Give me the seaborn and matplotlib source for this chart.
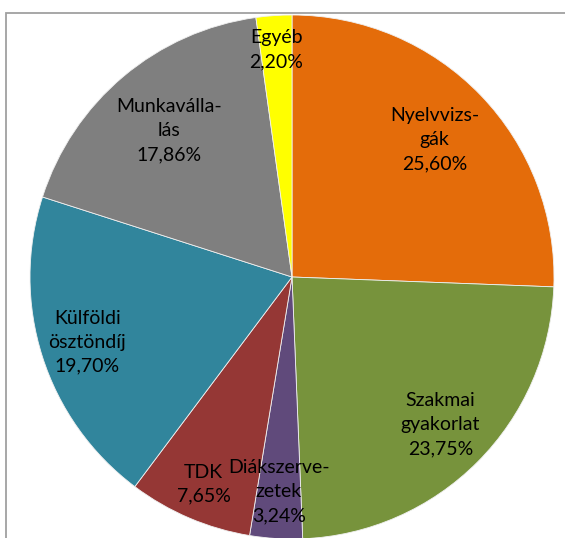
import matplotlib
matplotlib.use("Agg")
import matplotlib.pyplot as plt
import seaborn as sns
import numpy as np
from matplotlib.patches import Rectangle

# ---- data ----
categories = ["Nyelvvizs-\ngák", "Szakmai\ngyakorlat", "Diákszerve-\nzetek", "TDK",
              "Külföldi\nösztöndíj", "Munkaválla-\nlás", "Egyéb"]
values = [25.60, 23.75, 3.24, 7.65, 19.70, 17.86, 2.20]
pct_labels = ["25,60%", "23,75%", "3,24%", "7,65%", "19,70%", "17,86%", "2,20%"]

# ---- style ----
colors = ["#E46C0A", "#77933C", "#604A7B", "#953735", "#31859C", "#7F7F7F", "#FFFF00"]
label_radius = [0.756, 0.80, 0.82, 0.86, 0.82, 0.73, 0.87]

sns.set_theme(style="white")
plt.rcParams['font.family'] = ['Lato', 'DejaVu Sans']

W, H = 565, 538
fig = plt.figure(figsize=(W / 100, H / 100), dpi=100)
fig.patch.set_facecolor("white")

# frame (border of the original chart area)
fig.add_artist(Rectangle((5.5 / W, -0.1), 1.2, 1.1 - 13.5 / H,
                         transform=fig.transFigure, fill=False,
                         edgecolor="#A0A0A0", linewidth=1.3))

cx, cy, R = 292, 277, 262
ax = fig.add_axes([(cx - R) / W, 1 - (cy + R) / H, 2 * R / W, 2 * R / H])
wedges, _ = ax.pie(values, colors=colors, startangle=90, counterclock=False,
                   radius=1.0, wedgeprops=dict(edgecolor="#F0F0F0", linewidth=0.6))
ax.set_xlim(-1, 1)
ax.set_ylim(-1, 1)
ax.set_aspect("equal")
ax.axis("off")

for w, cat, pct, r in zip(wedges, categories, pct_labels, label_radius):
    ang = np.deg2rad((w.theta1 + w.theta2) / 2)
    ax.text(r * np.cos(ang), r * np.sin(ang), f"{cat}\n{pct}", ha="center", va="center",
            fontsize=14, color="black", linespacing=1.5)

fig.savefig("out.png", dpi=100, facecolor="white")
